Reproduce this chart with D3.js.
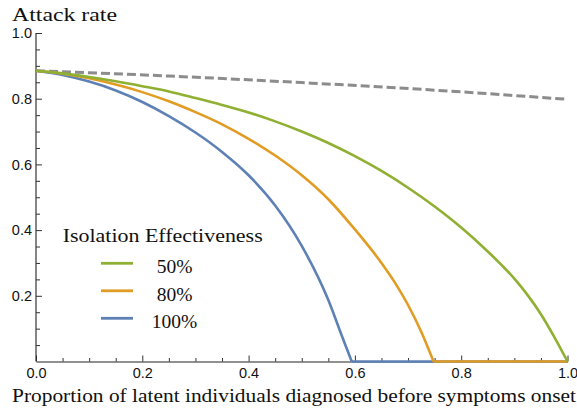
<!DOCTYPE html>
<html>
<head>
<meta charset="utf-8">
<script src="https://cdn.jsdelivr.net/npm/d3@7"></script>
<style>
  html, body { margin: 0; padding: 0; background: #fff; }
  svg { display: block; }
  .serif { font-family: "Liberation Serif", "DejaVu Serif", serif; fill: #111; }
</style>
</head>
<body>
<svg id="chart" width="577" height="410"></svg>
<script>
// Proportion of latent individuals diagnosed before symptom onset -> attack rate
const pGreen  = [0, 0.05, 0.10, 0.15, 0.20, 0.25, 0.30, 0.35, 0.40, 0.45, 0.50, 0.55, 0.60, 0.65, 0.70, 0.75, 0.80, 0.85, 0.90, 0.925, 0.95, 0.975, 1.00];
const rGreen  = [0.885, 0.877, 0.866, 0.853, 0.838, 0.822, 0.802, 0.781, 0.758, 0.731, 0.700, 0.665, 0.625, 0.580, 0.529, 0.472, 0.408, 0.335, 0.252, 0.202, 0.144, 0.075, 0];

const pOrange = [0, 0.05, 0.10, 0.15, 0.20, 0.25, 0.30, 0.35, 0.40, 0.45, 0.50, 0.55, 0.60, 0.65, 0.675, 0.70, 0.725, 0.748, 1.00];
const rOrange = [0.885, 0.876, 0.862, 0.843, 0.820, 0.792, 0.759, 0.722, 0.678, 0.627, 0.567, 0.494, 0.402, 0.300, 0.241, 0.172, 0.090, 0, 0];

const pBlue   = [0, 0.05, 0.10, 0.15, 0.20, 0.25, 0.30, 0.35, 0.40, 0.45, 0.50, 0.55, 0.575, 0.594, 1.00];
const rBlue   = [0.885, 0.872, 0.852, 0.825, 0.790, 0.747, 0.697, 0.638, 0.567, 0.475, 0.352, 0.187, 0.080, 0, 0];

// Reference curve without isolation (dashed)
const pBase   = [0, 0.25, 0.50, 0.75, 1.00];
const rBase   = [0.885, 0.869, 0.849, 0.826, 0.798];

const legendLabels = ["50%", "80%", "100%"];
const legendColors = ["#8fb032", "#e19c24", "#5e81b5"];

const xMajor = [0, 0.2, 0.4, 0.6, 0.8, 1.0];
const yMajor = [0.2, 0.4, 0.6, 0.8, 1.0];
const minorSteps = d3.range(1, 20).map(i => i * 0.05).filter(v => Math.abs(v * 5 - Math.round(v * 5)) > 1e-6);

const svg = d3.select("#chart");
const x = d3.scaleLinear().domain([0, 1]).range([36, 567.5]);
const y = d3.scaleLinear().domain([0, 1]).range([361.5, 33]);

const zip = (ps, rs) => ps.map((p, i) => [p, rs[i]]);
const smooth = d3.line().x(d => x(d[0])).y(d => y(d[1])).curve(d3.curveMonotoneX);
const straight = d3.line().x(d => x(d[0])).y(d => y(d[1]));

// Axes: ticks point into the plot
svg.append("g").attr("transform", `translate(0,${y(0)})`)
  .call(d3.axisBottom(x).tickValues(xMajor).tickFormat(d3.format(".1f"))
        .tickSizeInner(-6).tickSizeOuter(0).tickPadding(6));
svg.append("g").attr("transform", `translate(0,${y(0)})`)
  .call(d3.axisBottom(x).tickValues(minorSteps).tickFormat("")
        .tickSizeInner(-3.5).tickSizeOuter(0))
  .select(".domain").remove();

const yAxis = svg.append("g").attr("transform", `translate(${x(0)},0)`)
  .call(d3.axisLeft(y).tickValues(yMajor).tickFormat(d3.format(".1f"))
        .tickSizeInner(-6).tickSizeOuter(0).tickPadding(4));
yAxis.select(".domain").attr("d", `M0,${y(0)}V${y(1)}`);
svg.append("g").attr("transform", `translate(${x(0)},0)`)
  .call(d3.axisLeft(y).tickValues(minorSteps).tickFormat("")
        .tickSizeInner(-4).tickSizeOuter(0))
  .select(".domain").remove();

svg.selectAll(".domain").attr("stroke", "#222").attr("stroke-width", 1.1);
svg.selectAll(".tick line").attr("stroke", "#333").attr("stroke-width", 1);
svg.selectAll(".tick text")
  .style("font-family", "'Liberation Sans', Arial, sans-serif")
  .style("font-size", "14.5px").style("fill", "#111");

// Curves
svg.append("path").datum(zip(pBase, rBase))
  .attr("d", smooth).attr("fill", "none").attr("stroke", "#8c8c8c")
  .attr("stroke-width", 3).attr("stroke-dasharray", "9,4");

// Each series: smooth descent down to the first zero, then a straight run along zero
[[pBlue, rBlue, legendColors[2]], [pOrange, rOrange, legendColors[1]], [pGreen, rGreen, legendColors[0]]]
  .forEach(([ps, rs, c]) => {
    const pts = zip(ps, rs);
    const k = rs.indexOf(0);
    const drop = pts.slice(0, k + 1);
    const flat = pts.slice(k);
    const g = svg.append("g").attr("fill", "none").attr("stroke", c)
      .attr("stroke-width", 2.6).attr("stroke-linejoin", "round");
    g.append("path").datum(drop).attr("d", smooth);
    if (flat.length > 1) g.append("path").datum(flat).attr("d", straight);
  });

// Titles
svg.append("text").attr("class", "serif").attr("x", 12).attr("y", 20.5)
  .attr("font-size", 19).attr("textLength", 105).attr("lengthAdjust", "spacingAndGlyphs")
  .text("Attack rate");
svg.append("text").attr("class", "serif").attr("x", 12).attr("y", 401.5)
  .attr("font-size", 19).attr("textLength", 564).attr("lengthAdjust", "spacingAndGlyphs")
  .text("Proportion of latent individuals diagnosed before symptoms onset");

// Legend
const lg = svg.append("g");
lg.append("text").attr("class", "serif").attr("x", 62.7).attr("y", 241.5)
  .attr("font-size", 19).attr("textLength", 200).attr("lengthAdjust", "spacingAndGlyphs")
  .text("Isolation Effectiveness");
legendLabels.forEach((lab, i) => {
  const cy = 263.3 + i * 27.5;
  lg.append("line").attr("x1", 101).attr("x2", 133).attr("y1", cy).attr("y2", cy)
    .attr("stroke", legendColors[i]).attr("stroke-width", 2.8);
  lg.append("text").attr("class", "serif").attr("x", 174.5).attr("y", cy + 10)
    .attr("font-size", 19.5).attr("text-anchor", "middle").text(lab);
});
</script>
</body>
</html>
